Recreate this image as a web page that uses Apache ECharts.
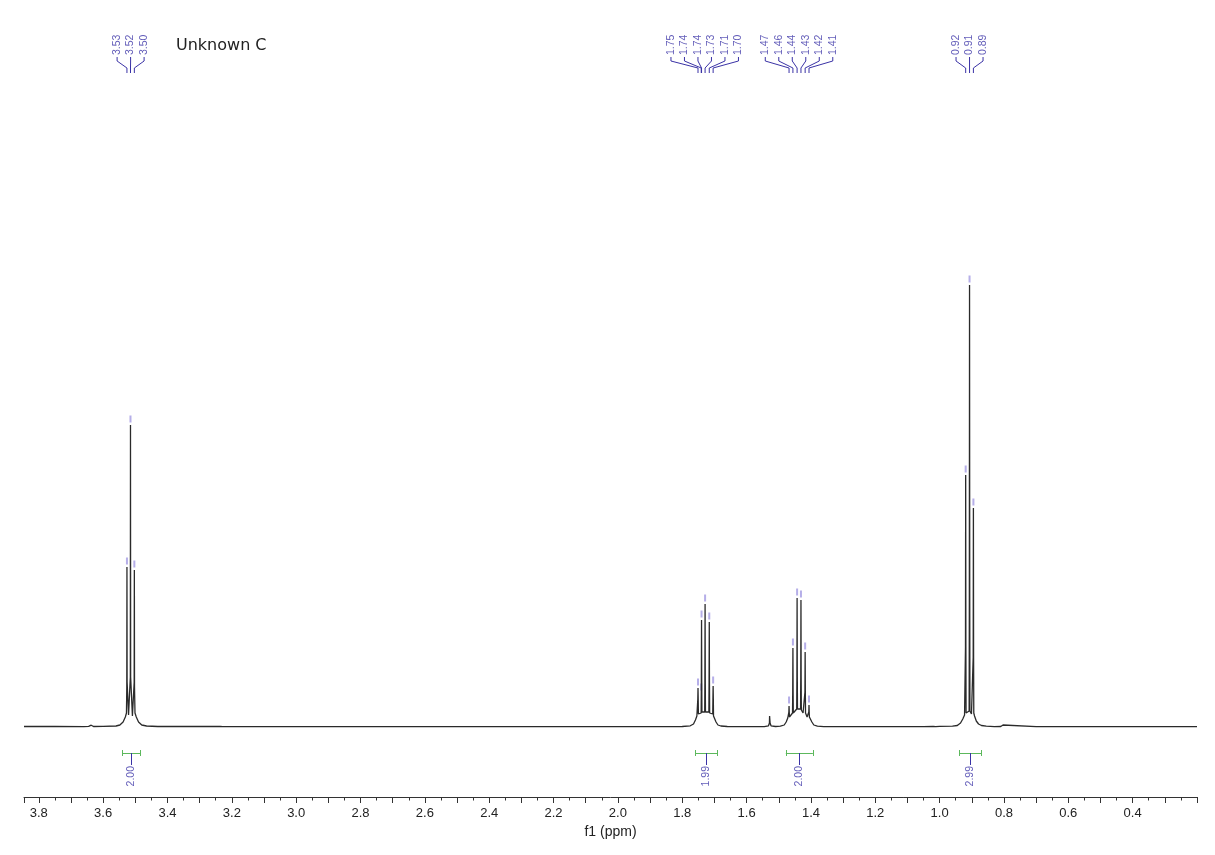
<!DOCTYPE html>
<html>
<head>
<meta charset="utf-8">
<script src="https://cdn.jsdelivr.net/npm/echarts@6/dist/echarts.min.js"></script>
<style>html,body{margin:0;padding:0;background:#fff}#c{width:1215px;height:855px}</style>
</head>
<body>
<div id="c"></div>
<script>
// ---------------- data ----------------
const chartTitle = 'Unknown C';
const axisName = 'f1 (ppm)';

// spectrum trace: chemical shift (ppm) and intensity (arbitrary units)
const spectrumPpm = [
  3.846, 3.750, 3.660, 3.645, 3.637, 3.630, 3.600, 3.560, 3.548, 3.538, 3.531, 3.5275,
  3.5265, 3.5260, 3.5255, 3.5210, 3.5155, 3.5150, 3.5145, 3.5090, 3.5035, 3.5030, 3.5025,
  3.5010, 3.4970, 3.4900, 3.4800, 3.4650, 3.4300, 3.3950, 3.3890, 3.3830, 3.3000, 3.2360,
  3.2320, 3.2280, 3.0000, 2.6000, 2.2000, 1.9000,
  1.8000, 1.7750, 1.7650, 1.7590, 1.7545,
  1.7522, 1.7516, 1.7510, 1.7504, 1.7498, 1.7455,
  1.7412, 1.7406, 1.7400, 1.7394, 1.7388, 1.7345,
  1.7302, 1.7296, 1.7290, 1.7284, 1.7278, 1.7225,
  1.7172, 1.7166, 1.7160, 1.7154, 1.7148, 1.7100,
  1.7052, 1.7046, 1.7040, 1.7034, 1.7028,
  1.6995, 1.6950, 1.6890, 1.6800, 1.6600, 1.6000,
  1.5450, 1.5320, 1.5290, 1.5285, 1.5275, 1.5270, 1.5240, 1.5100,
  1.4950, 1.4830, 1.4770, 1.4720,
  1.4692, 1.4686, 1.4680, 1.4674, 1.4668, 1.4620,
  1.4572, 1.4566, 1.4560, 1.4554, 1.4548, 1.4495,
  1.4442, 1.4436, 1.4430, 1.4424, 1.4418, 1.4370,
  1.4322, 1.4316, 1.4310, 1.4304, 1.4298, 1.4245,
  1.4192, 1.4186, 1.4180, 1.4174, 1.4168, 1.4120,
  1.4072, 1.4066, 1.4060, 1.4054, 1.4048,
  1.4015, 1.3970, 1.3910, 1.3800, 1.3600,
  1.2000, 1.0500, 1.0200, 1.0160, 1.0120, 1.0000,
  0.9600, 0.9450, 0.9350, 0.9280, 0.9225,
  0.9202, 0.9196, 0.9190, 0.9184, 0.9178, 0.9130,
  0.9082, 0.9076, 0.9070, 0.9064, 0.9058, 0.9010,
  0.8962, 0.8956, 0.8950, 0.8944, 0.8938,
  0.8915, 0.8860, 0.8790, 0.8700, 0.8550, 0.8300,
  0.8100, 0.8060, 0.8030, 0.7990, 0.7000, 0.6320, 0.6280, 0.6240, 0.5000, 0.2000
];
const spectrumIntensity = [
  0.5, 0.5, 0.3, 0.6, 1.8, 0.5, 0.6, 1, 2, 5, 10, 14,
  40, 160, 45, 12, 50, 302, 50, 11, 45, 157, 40,
  14, 10, 5, 2, 1, 0.5, 0.6, 2, 0.5, 0.5, 0.5,
  1.5, 0.4, 0.3, 0.4, 0.3, 0.3,
  0.5, 1.2, 3, 7, 11,
  12, 28, 39, 28, 13, 12,
  14, 45, 107, 45, 15, 13,
  15, 45, 123, 45, 15, 13,
  15, 45, 105, 45, 14, 12,
  13, 28, 41, 28, 11,
  9, 5, 2, 1, 0.5, 0.3,
  0.4, 1.2, 4, 11, 11, 4, 1.2, 0.5,
  0.8, 2, 5, 9,
  10, 15, 21, 15, 10, 10,
  14, 35, 79, 35, 14, 14,
  18, 50, 129, 50, 18, 17,
  18, 50, 127, 50, 17, 14,
  14, 35, 75, 35, 14, 10,
  10, 15, 22, 15, 10,
  8, 5, 2, 0.8, 0.4,
  0.3, 0.4, 0.5, 2, 0.4, 0.6,
  0.8, 1.5, 4, 8, 12,
  14, 80, 252, 80, 14, 13,
  16, 130, 442, 130, 16, 13,
  14, 70, 219, 70, 14,
  11, 6, 3, 1.5, 0.8, 0.4,
  0.5, 2.5, 2, 0.5, 0.3, 0.3, 1.5, 0.3, 0.3, 0.3
];

// picked peaks
const peakPpm    = [3.526, 3.515, 3.503, 1.751, 1.741, 1.740, 1.729, 1.716, 1.704,
                    1.468, 1.456, 1.443, 1.431, 1.418, 1.406, 0.919, 0.907, 0.895];
const peakHeight = [160, 302, 157, 39, 34, 107, 123, 105, 41,
                    21, 79, 129, 127, 75, 22, 252, 442, 219];
const peakLabels = ['3.53','3.52','3.50','1.75','1.74','1.74','1.73','1.71','1.70',
                    '1.47','1.46','1.44','1.43','1.42','1.41','0.92','0.91','0.89'];
const peakGroup  = [0,0,0,1,1,1,1,1,1,2,2,2,2,2,2,3,3,3];

// integrals
const integralFrom  = [3.540, 1.760, 1.478, 0.938];
const integralTo    = [3.484, 1.692, 1.394, 0.870];
const integralValue = ['2.00', '1.99', '2.00', '2.99'];

// ---------------- layout / style ----------------
const X_MIN = 0.2, X_MAX = 3.846;
const Y_MIN = -70, Y_MAX = 707;
const GRID = {left: 24, right: 18, top: 20, bottom: 58};
const W = 1215;
const ppmPerPx = (X_MAX - X_MIN) / (W - GRID.left - GRID.right);
const LABEL_SPACING_PX = 13.5;
const PURPLE = '#3a32a6';
const MARK = '#a29ae2';
const GREEN = '#5cb85c';
const FONT = "'Liberation Sans', Arial, sans-serif";

const spectrum = spectrumPpm.map((p, i) => [p, spectrumIntensity[i]]);

// label anchor positions, spread evenly around each multiplet's centre
const labelPpm = new Array(peakPpm.length);
const groups = {};
peakGroup.forEach((g, i) => { (groups[g] = groups[g] || []).push(i); });
Object.values(groups).forEach(idx => {
  const c = idx.reduce((s, i) => s + peakPpm[i], 0) / idx.length;
  idx.forEach((i, k) => {
    labelPpm[i] = c + ((idx.length - 1) / 2 - k) * LABEL_SPACING_PX * ppmPerPx;
  });
});

const leaderData = peakPpm.map((p, i) => ({
  coords: [[labelPpm[i], 670], [labelPpm[i], 666], [p, 659], [p, 654]]
}));
const peakLabelData = peakPpm.map((p, i) => [labelPpm[i], 672, peakLabels[i]]);
const markerData = peakPpm.map((p, i) => [p, peakHeight[i]]);

const BR_Y = -26, CAP = 3;
const bracketData = [];
const integralStemData = [];
const integralLabelData = [];
integralFrom.forEach((a, i) => {
  const b = integralTo[i];
  const c = (a + b) / 2;
  bracketData.push({coords: [[a, BR_Y], [b, BR_Y]]});
  bracketData.push({coords: [[a, BR_Y + CAP], [a, BR_Y - CAP]]});
  bracketData.push({coords: [[b, BR_Y + CAP], [b, BR_Y - CAP]]});
  integralStemData.push({coords: [[c, BR_Y], [c, -38]]});
  integralLabelData.push([c, -39, integralValue[i]]);
});

const chart = echarts.init(document.getElementById('c'), null, {renderer: 'canvas'});
chart.setOption({
  animation: false,
  backgroundColor: '#ffffff',
  title: {
    text: chartTitle, left: 171, top: 33,
    textStyle: {fontFamily: "'DejaVu Sans', sans-serif", fontSize: 16, fontWeight: 'normal', color: '#222'}
  },
  grid: GRID,
  xAxis: {
    type: 'value', min: X_MIN, max: X_MAX, inverse: true, interval: 0.1,
    axisLine: {onZero: false, lineStyle: {color: '#333', width: 1}},
    axisTick: {length: 6, lineStyle: {color: '#333'}},
    minorTick: {show: true, splitNumber: 2, length: 3.5, lineStyle: {color: '#333'}},
    splitLine: {show: false}, minorSplitLine: {show: false},
    axisLabel: {
      color: '#222', fontSize: 13, fontFamily: FONT, margin: 10,
      formatter: v => {
        const k = Math.round(v * 10);
        if (Math.abs(v * 10 - k) > 1e-6) return '';
        return (k % 2 === 0 && k >= 4) ? v.toFixed(1) : '';
      }
    },
    name: axisName, nameLocation: 'middle', nameGap: 26,
    nameTextStyle: {color: '#222', fontSize: 14, fontFamily: FONT}
  },
  yAxis: {type: 'value', min: Y_MIN, max: Y_MAX, show: false},
  series: [
    {
      type: 'scatter', data: markerData, symbol: 'rect', symbolSize: [2, 7],
      symbolOffset: [0, -6], itemStyle: {color: MARK}, z: 1, silent: true
    },
    {
      type: 'line', data: spectrum, showSymbol: false, symbol: 'none',
      lineStyle: {color: '#2a2a2a', width: 1.3}, z: 2, silent: true
    },
    {
      type: 'lines', coordinateSystem: 'cartesian2d', polyline: true, data: leaderData,
      lineStyle: {color: PURPLE, width: 1, opacity: 1}, z: 3, silent: true
    },
    {
      type: 'scatter', data: peakLabelData, symbolSize: 0, z: 3, silent: true,
      label: {
        show: true, position: 'inside', rotate: 90, align: 'left', verticalAlign: 'middle',
        formatter: p => p.value[2], color: PURPLE, fontSize: 10.5, fontFamily: FONT
      }
    },
    {
      type: 'lines', coordinateSystem: 'cartesian2d', polyline: false, data: bracketData,
      lineStyle: {color: GREEN, width: 1, opacity: 1}, z: 3, silent: true
    },
    {
      type: 'lines', coordinateSystem: 'cartesian2d', polyline: false, data: integralStemData,
      lineStyle: {color: PURPLE, width: 1, opacity: 1}, z: 3, silent: true
    },
    {
      type: 'scatter', data: integralLabelData, symbolSize: 0, z: 3, silent: true,
      label: {
        show: true, position: 'inside', rotate: 90, align: 'right', verticalAlign: 'middle',
        formatter: p => p.value[2], color: PURPLE, fontSize: 10.5, fontFamily: FONT
      }
    }
  ]
});
</script>
</body>
</html>
